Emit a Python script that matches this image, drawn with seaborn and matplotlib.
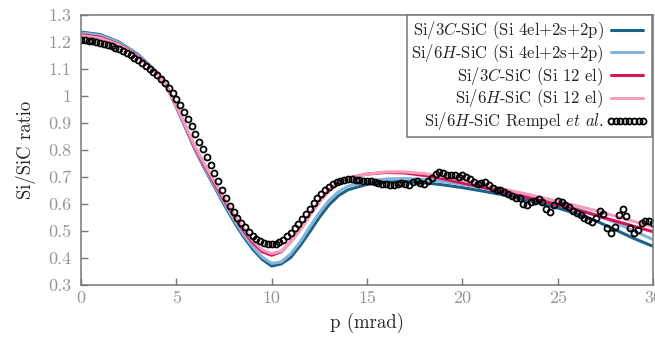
import numpy as np
import pandas as pd
import matplotlib
matplotlib.use("Agg")
import matplotlib.pyplot as plt
import seaborn as sns
from matplotlib.ticker import FuncFormatter, MultipleLocator

# Simulated Si/SiC ratios on a shared momentum grid (mrad)
p_model = [0, 1, 2, 3, 4, 4.5, 5, 5.5, 6, 6.5, 7, 7.5, 8, 8.5, 9, 9.5, 10, 10.5,
           11, 11.5, 12, 12.5, 13, 13.5, 14, 15, 16, 17, 18, 19, 20, 21, 22, 23,
           24, 25, 26, 27, 28, 29, 30]

si3c_4el = [1.235, 1.226, 1.198, 1.152, 1.085, 1.033, 0.958, 0.878, 0.797, 0.728,
            0.663, 0.598, 0.537, 0.481, 0.433, 0.395, 0.370, 0.378, 0.402, 0.446,
            0.497, 0.550, 0.596, 0.630, 0.652, 0.672, 0.681, 0.683, 0.678, 0.670,
            0.660, 0.648, 0.635, 0.620, 0.604, 0.585, 0.563, 0.537, 0.505, 0.472,
            0.443]

si6h_4el = [1.232, 1.223, 1.196, 1.150, 1.085, 1.034, 0.960, 0.880, 0.800, 0.732,
            0.668, 0.604, 0.544, 0.489, 0.442, 0.403, 0.380, 0.385, 0.415, 0.460,
            0.515, 0.567, 0.612, 0.645, 0.665, 0.684, 0.692, 0.694, 0.690, 0.682,
            0.672, 0.660, 0.647, 0.633, 0.618, 0.602, 0.582, 0.559, 0.531, 0.500,
            0.468]

si3c_12el = [1.225, 1.216, 1.190, 1.145, 1.082, 1.032, 0.961, 0.883, 0.805, 0.739,
             0.677, 0.615, 0.557, 0.504, 0.457, 0.423, 0.410, 0.423, 0.460, 0.510,
             0.560, 0.610, 0.650, 0.677, 0.695, 0.710, 0.716, 0.714, 0.705, 0.692,
             0.677, 0.662, 0.646, 0.631, 0.614, 0.596, 0.578, 0.558, 0.537, 0.517,
             0.497]

si6h_12el = [1.222, 1.213, 1.188, 1.143, 1.080, 1.031, 0.962, 0.885, 0.809, 0.744,
             0.683, 0.622, 0.564, 0.512, 0.465, 0.430, 0.416, 0.425, 0.458, 0.503,
             0.556, 0.606, 0.646, 0.675, 0.693, 0.710, 0.718, 0.718, 0.712, 0.701,
             0.687, 0.672, 0.657, 0.642, 0.626, 0.610, 0.593, 0.575, 0.555, 0.535,
             0.515]

# Measured ratio (Rempel et al.)
p_exp = [0.0, 0.2, 0.4, 0.6, 0.8, 1.0, 1.2, 1.4, 1.6, 1.8, 2.0, 2.2, 2.4, 2.6, 2.8,
         3.0, 3.2, 3.4, 3.6, 3.8, 4.0, 4.2, 4.4, 4.6, 4.8, 5.0, 5.2, 5.4, 5.6, 5.8,
         6.0, 6.2, 6.4, 6.6, 6.8, 7.0, 7.2, 7.4, 7.6, 7.8, 8.0, 8.2, 8.4, 8.6, 8.8,
         9.0, 9.2, 9.4, 9.6, 9.8, 10.0, 10.2, 10.4, 10.6, 10.8, 11.0, 11.2, 11.4,
         11.6, 11.8, 12.0, 12.2, 12.4, 12.6, 12.8, 13.0, 13.2, 13.4, 13.6, 13.8,
         14.0, 14.2, 14.4, 14.6, 14.8, 15.0, 15.2, 15.4, 15.6, 15.8, 16.0, 16.2,
         16.4, 16.6, 16.8, 17.0, 17.2, 17.4, 17.6, 17.8, 18.0, 18.2, 18.4, 18.6,
         18.8, 19.0, 19.2, 19.4, 19.6, 19.8, 20.0, 20.2, 20.4, 20.6, 20.8, 21.0,
         21.2, 21.4, 21.6, 21.8, 22.0, 22.2, 22.4, 22.6, 22.8, 23.0, 23.2, 23.4,
         23.6, 23.8, 24.0, 24.2, 24.4, 24.6, 24.8, 25.0, 25.2, 25.4, 25.6, 25.8,
         26.0, 26.2, 26.4, 26.6, 26.8, 27.0, 27.2, 27.4, 27.6, 27.8, 28.0, 28.2,
         28.4, 28.6, 28.8, 29.0, 29.2, 29.4, 29.6, 29.8, 30.0]

rempel = [1.205, 1.204, 1.203, 1.201, 1.198, 1.196, 1.192, 1.188, 1.183, 1.177,
          1.171, 1.165, 1.158, 1.150, 1.141, 1.132, 1.122, 1.111, 1.100, 1.088,
          1.076, 1.062, 1.047, 1.030, 1.010, 0.988, 0.965, 0.941, 0.915, 0.888,
          0.860, 0.830, 0.802, 0.773, 0.743, 0.713, 0.683, 0.653, 0.622, 0.593,
          0.568, 0.549, 0.530, 0.514, 0.497, 0.482, 0.470, 0.461, 0.455, 0.452,
          0.451, 0.453, 0.458, 0.467, 0.480, 0.494, 0.510, 0.527, 0.545, 0.563,
          0.582, 0.603, 0.622, 0.638, 0.652, 0.663, 0.672, 0.679, 0.684, 0.688,
          0.690, 0.690, 0.689, 0.687, 0.686, 0.684, 0.683, 0.681, 0.678, 0.673,
          0.675, 0.671, 0.668, 0.672, 0.677, 0.673, 0.671, 0.679, 0.683, 0.678,
          0.674, 0.684, 0.697, 0.710, 0.716, 0.713, 0.708, 0.707, 0.705, 0.700,
          0.706, 0.699, 0.690, 0.682, 0.675, 0.677, 0.681, 0.670, 0.658, 0.650,
          0.652, 0.644, 0.637, 0.628, 0.622, 0.620, 0.598, 0.594, 0.605, 0.612,
          0.618, 0.608, 0.581, 0.568, 0.596, 0.610, 0.608, 0.597, 0.589, 0.574,
          0.566, 0.558, 0.548, 0.540, 0.532, 0.548, 0.572, 0.562, 0.510, 0.492,
          0.515, 0.558, 0.580, 0.555, 0.510, 0.494, 0.505, 0.530, 0.538, 0.536,
          0.530]

series_labels = [
    r"Si/3$C$-SiC (Si 4el+2s+2p)",
    r"Si/6$H$-SiC (Si 4el+2s+2p)",
    r"Si/3$C$-SiC (Si 12 el)",
    r"Si/6$H$-SiC (Si 12 el)",
]
series_values = [si3c_4el, si6h_4el, si3c_12el, si6h_12el]
series_colors = ["#1b6288", "#86b4d8", "#d6145a", "#f79bbf"]
exp_label = r"Si/6$H$-SiC Rempel $et$ $al.$"

sns.set_style("ticks")
plt.rcParams.update({
    "font.family": ["cmr10"],
    "mathtext.fontset": "cm",
    "axes.formatter.use_mathtext": True,
    "font.size": 12,
    "axes.unicode_minus": False,
})

fig = plt.figure(figsize=(6.55, 3.42), dpi=100)
ax = fig.add_axes([0.1237, 0.1667, 0.8733, 0.7909])

handles = []
for vals, col in zip(series_values, series_colors):
    sns.lineplot(x=p_model, y=vals, ax=ax, color=col, lw=2.2, legend=False)
    handles.append(ax.get_lines()[-1])

sns.lineplot(x=p_exp, y=rempel, ax=ax, color="black", linestyle="",
             marker="o", markersize=4.3, markerfacecolor="none",
             markeredgecolor="black", markeredgewidth=1.3, legend=False)
handles.append(ax.get_lines()[-1])

ax.set_xlim(0, 30)
ax.set_ylim(0.3, 1.3)
ax.xaxis.set_major_locator(MultipleLocator(5))
ax.yaxis.set_major_locator(MultipleLocator(0.1))
ax.yaxis.set_major_formatter(FuncFormatter(lambda v, _: f"{round(v, 2):g}"))
ax.xaxis.set_major_formatter(FuncFormatter(lambda v, _: f"{v:g}"))

frame_col = "#777777"
for s in ax.spines.values():
    s.set_color(frame_col)
    s.set_linewidth(1.1)
ax.tick_params(direction="in", length=5, width=1.0, color=frame_col,
               labelcolor="#959595", labelsize=13, top=False, right=False)
ax.tick_params(axis="y", pad=7)
ax.tick_params(axis="x", pad=4)

ax.set_xlabel("p (mrad)", fontsize=13.5, labelpad=5)
ax.set_ylabel("Si/SiC ratio", fontsize=13.5, labelpad=9)

leg = ax.legend(handles, series_labels + [exp_label], loc="upper right",
                markerfirst=False, numpoints=8, handlelength=2.5,
                handletextpad=0.15, labelspacing=0.0, borderaxespad=0.05,
                borderpad=0.25, fancybox=False, framealpha=1,
                edgecolor=frame_col, fontsize=12)
leg.get_frame().set_linewidth(1.1)

fig.savefig("out.png", dpi=100)
